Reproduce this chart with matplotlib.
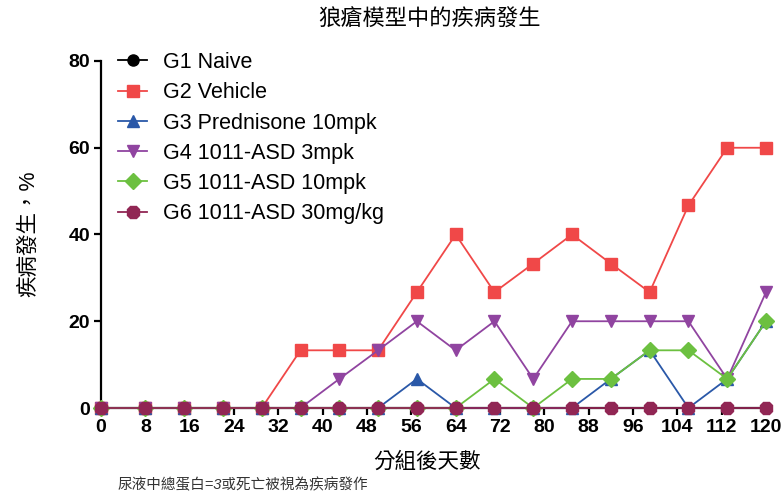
import numpy as np
import matplotlib.pyplot as plt

plt.rcParams['font.family'] = ['Liberation Sans', 'Noto Sans CJK TC', 'DejaVu Sans']

# study days (weekly scoring after day 8)
days = [0, 8, 15, 22, 29, 36, 43, 50, 57, 64, 71, 78, 85, 92, 99, 106, 113, 120]

# disease incidence, % of animals per group
g1 = [0, 0, 0, 0, 0, 0, 0, 0, 0, 0, 0, 0, 0, 0, 0, 0, 0, 0]
g2 = [0, 0, 0, 0, 0, 13.3, 13.3, 13.3, 26.7, 40, 26.7, 33.3, 40, 33.3, 26.7, 46.7, 60, 60]
g3 = [0, 0, 0, 0, 0, 0, 0, 0, 6.7, 0, 0, 0, 0, 6.7, 13.3, 0, 6.7, 20]
g4 = [0, 0, 0, 0, 0, 0, 6.7, 13.3, 20, 13.3, 20, 6.7, 20, 20, 20, 20, 6.7, 26.7]
g5 = [0, 0, 0, 0, 0, 0, 0, 0, 0, 0, 6.7, 0, 6.7, 6.7, 13.3, 13.3, 6.7, 20]
g6 = [0, 0, 0, 0, 0, 0, 0, 0, 0, 0, 0, 0, 0, 0, 0, 0, 0, 0]

labels = ['G1 Naive', 'G2 Vehicle', 'G3 Prednisone 10mpk',
          'G4 1011-ASD 3mpk', 'G5 1011-ASD 10mpk', 'G6 1011-ASD 30mg/kg']
series = [g1, g2, g3, g4, g5, g6]
colors = ['#000000', '#f04848', '#2a58a8', '#9044a0', '#6cc040', '#912654']
markers = ['o', 's', '^', 'v', 'D', '8']
msizes = [8, 8.5, 8.5, 9, 8, 10]

xticks = np.arange(0, 121, 8)
yticks = [0, 20, 40, 60, 80]

fig = plt.figure(figsize=(7.82, 4.94), dpi=100)
ax = fig.add_axes([101/782, 1 - 408/494, 665/782, 347/494])

for i in range(len(series)):
    ax.plot(days, series[i], color=colors[i], marker=markers[i], markersize=msizes[i],
            linewidth=1.3, label=labels[i], clip_on=False, zorder=3 + i)

ax.set_xlim(0, 120)
ax.set_ylim(0, 80)
ax.set_xticks(xticks)
ax.set_yticks(yticks)
for s in ['top', 'right']:
    ax.spines[s].set_visible(False)
for s in ['left', 'bottom']:
    ax.spines[s].set_linewidth(1.6)
ax.tick_params(direction='out', length=5, width=1.6, labelsize=14, pad=3)
for t in ax.get_xticklabels() + ax.get_yticklabels():
    t.set_fontweight('bold')

fig.text(430/782, 1 - 20/494, '狼瘡模型中的疾病發生', ha='center', va='center', fontsize=16)
fig.text(29/782, 1 - 234/494, '疾病發生，%', ha='center', va='center', rotation=90, fontsize=15.5)
fig.text(427/782, 1 - 462/494, '分組後天數', ha='center', va='center', fontsize=15.5)
fig.text(118/782, 1 - 485/494, '尿液中總蛋白=3或死亡被視為疾病發作', ha='left', va='center',
         fontsize=10.5, style='italic', color='#333333')

fig.legend(loc='upper left', bbox_to_anchor=(118/782, 1 - 52/494), frameon=False,
           fontsize=15.5, handlelength=1.35, handletextpad=0.72, labelspacing=0.43,
           borderpad=0, borderaxespad=0)

fig.savefig('out.png', dpi=100)
